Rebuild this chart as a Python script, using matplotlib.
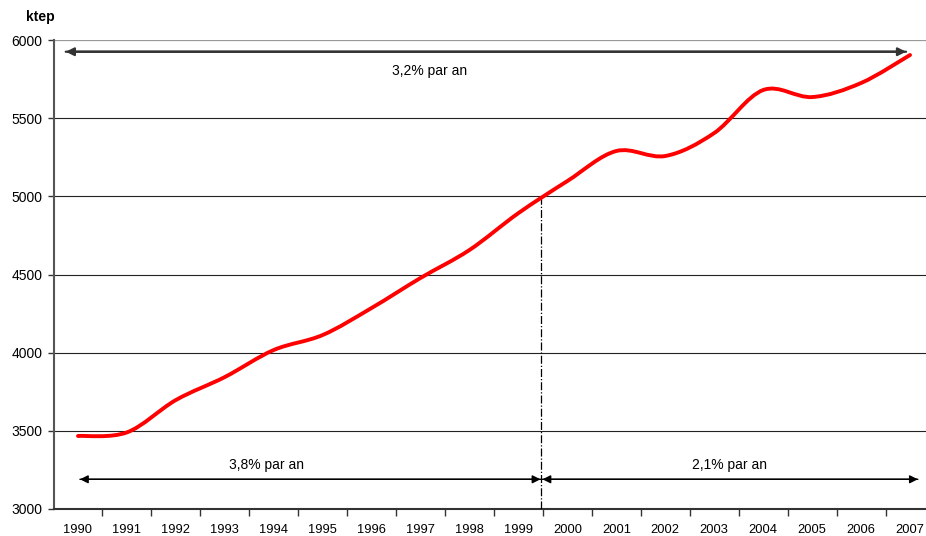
import numpy as np
import matplotlib
matplotlib.use("Agg")
from matplotlib import pyplot as plt
from matplotlib.path import Path
from matplotlib.patches import PathPatch

plt.rcParams['font.family'] = ['Liberation Sans', 'DejaVu Sans']

years = [str(y) for y in range(1990, 2008)]
ktep = [3467, 3490, 3697, 3844, 4017, 4113, 4286, 4478, 4657, 4893,
        5098, 5290, 5258, 5405, 5680, 5635, 5725, 5904]
y_ticks = [3000, 3500, 4000, 4500, 5000, 5500, 6000]
rates = ["3,2% par an", "3,8% par an", "2,1% par an"]

fig = plt.figure(figsize=(9.26, 5.36), dpi=100)
ax = fig.add_axes([53.5 / 926, 27 / 536, 881 / 926, 469 / 536])

# smoothed line (Excel-style bezier through the points)
x = np.arange(len(ktep), dtype=float)
y = np.array(ktep, dtype=float)
px = np.concatenate([[x[0]], x, [x[-1]]])
py = np.concatenate([[y[0]], y, [y[-1]]])
verts = [(x[0], y[0])]
codes = [Path.MOVETO]
for i in range(1, len(px) - 2):
    c1 = (px[i] + (px[i + 1] - px[i - 1]) / 6, py[i] + (py[i + 1] - py[i - 1]) / 6)
    c2 = (px[i + 1] - (px[i + 2] - px[i]) / 6, py[i + 1] - (py[i + 2] - py[i]) / 6)
    verts += [c1, c2, (px[i + 1], py[i + 1])]
    codes += [Path.CURVE4] * 3
ax.add_patch(PathPatch(Path(verts, codes), facecolor='none', edgecolor='#ff0000',
                       lw=2.8, capstyle='round', zorder=5))

ax.set_xlim(-0.5, len(years) - 0.5)
ax.set_ylim(3000, 6000)
ax.set_yticks(y_ticks)
ax.set_xticks(x)
ax.set_xticklabels(years, fontsize=9.3)
ax.set_xticks(np.arange(0.5, len(years) - 0.5), minor=True)
ax.tick_params(axis='x', which='major', length=0, pad=11)
ax.tick_params(axis='x', which='minor', length=5, width=1, color='#333333', direction='out')
ax.tick_params(axis='y', length=4, width=1, color='#333333', labelsize=10, pad=4)
for v in y_ticks[1:-1]:
    ax.axhline(v, color='#222222', lw=0.8, zorder=1)
ax.axhline(6000, color='#999999', lw=0.9, zorder=1)
for s in ['top', 'right']:
    ax.spines[s].set_visible(False)
ax.spines['left'].set_color('#555555')
ax.spines['left'].set_linewidth(1.5)
ax.spines['bottom'].set_color('#333333')
ax.spines['bottom'].set_linewidth(1.5)

# break between periods
xb = 9.47
ax.plot([xb, xb], [3000, 5000], color='black', lw=0.9, ls='-.', zorder=3)

arrow = dict(arrowstyle='-|>', color='#333333', lw=1.6, mutation_scale=12,
             shrinkA=0, shrinkB=0)
ax.annotate('', xy=(-0.25, 5925), xytext=(16.92, 5925), arrowprops=arrow)
ax.annotate('', xy=(16.92, 5925), xytext=(-0.25, 5925), arrowprops=arrow)
arrow2 = dict(arrow, color='black', lw=1.0)
ax.annotate('', xy=(0.04, 3190), xytext=(xb, 3190), arrowprops=arrow2)
ax.annotate('', xy=(xb - 0.02, 3190), xytext=(0.04, 3190), arrowprops=arrow2)
ax.annotate('', xy=(xb + 0.02, 3190), xytext=(17.16, 3190), arrowprops=arrow2)
ax.annotate('', xy=(17.16, 3190), xytext=(xb, 3190), arrowprops=arrow2)

ax.text(7.19, 5800, rates[0], ha='center', va='center', fontsize=10)
ax.text(3.86, 3281, rates[1], ha='center', va='center', fontsize=10)
ax.text(13.32, 3281, rates[2], ha='center', va='center', fontsize=10)

fig.text(40 / 926, 1 - 17 / 536, 'ktep', ha='center', va='center',
         fontsize=10, fontweight='bold')

fig.savefig('out.png', dpi=100)
